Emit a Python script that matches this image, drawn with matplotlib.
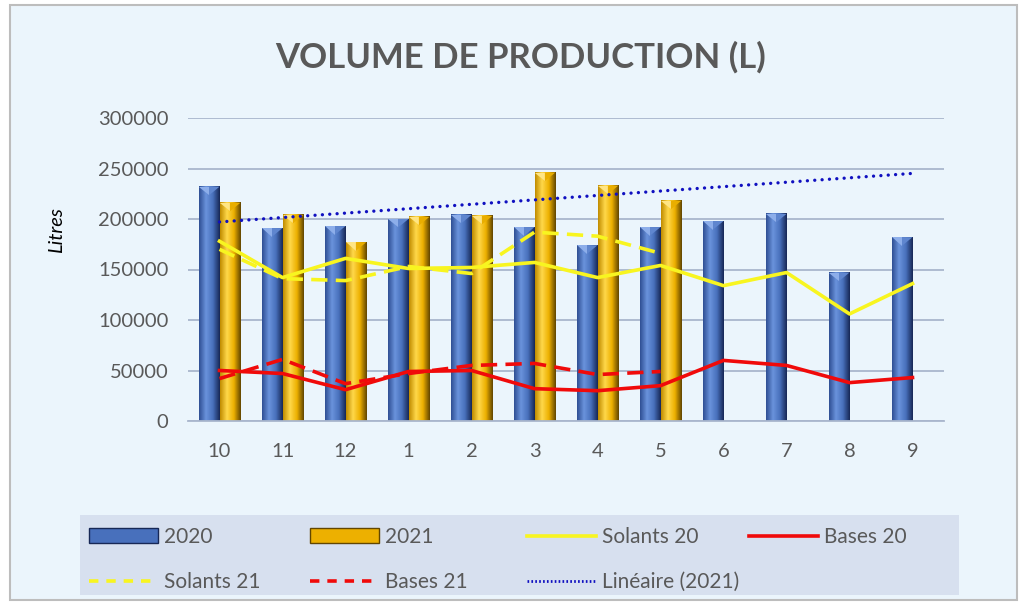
import matplotlib
matplotlib.use('Agg')
import matplotlib.pyplot as plt
import numpy as np
from matplotlib.colors import LinearSegmentedColormap
from matplotlib.patches import Rectangle, Polygon, Patch
from matplotlib.lines import Line2D

plt.rcParams['font.family'] = ['Lato', 'DejaVu Sans']

# donnees
mois = ['10', '11', '12', '1', '2', '3', '4', '5', '6', '7', '8', '9']
vol_2020 = [232000, 191000, 193000, 200000, 204000, 192000, 174000, 192000,
            198000, 205000, 147000, 182000]
vol_2021 = [216000, 204000, 177000, 202000, 203000, 246000, 233000, 218000]
solants_20 = [178000, 142000, 161000, 151000, 152000, 157000, 142000, 154000,
              134000, 147000, 106000, 136000]
bases_20 = [50000, 47000, 31000, 49000, 50000, 32000, 30000, 35000,
            60000, 55000, 38000, 43000]
solants_21 = [170000, 141000, 139000, 153000, 146000, 187000, 183000, 166000]
bases_21 = [42000, 61000, 37000, 47000, 55000, 57000, 46000, 49000]

gris = '#595959'
jaune_l = '#F8F520'
rouge_l = '#F00A0A'
x = np.arange(len(mois))
x21 = np.arange(len(vol_2021))
larg = 0.33
lw = 2.6

fig = plt.figure(figsize=(10.21, 6.05), dpi=100)
fig.patch.set_facecolor('white')
# zone du graphique
fig.patches.append(Rectangle((10 / 1021, 5 / 605), 1007 / 1021, 595 / 605,
                             transform=fig.transFigure, facecolor='#EBF5FC',
                             edgecolor='#BDBDBD', lw=1.5, zorder=-2))
# cadre de la legende
fig.patches.append(Rectangle((80 / 1021, 10 / 605), 879 / 1021, 80 / 605,
                             transform=fig.transFigure, facecolor='#D7E0EF',
                             edgecolor='none', zorder=-1))

ax = fig.add_axes([188 / 1021, 1 - 421 / 605, 756 / 1021, 303 / 605])
ax.patch.set_visible(False)

bleu = LinearSegmentedColormap.from_list('bleu', ['#2F4F94', '#6A93DC', '#4870BC', '#172856'])
jaune = LinearSegmentedColormap.from_list('jaune', ['#C08C00', '#FFD84A', '#EDB000', '#624600'])
grad = np.linspace(0, 1, 64).reshape(1, -1)
ymax = 300000
d = 0.028 * ymax


def barres(xs, vals, cmap, clair, moyen):
    bars = ax.bar(xs, vals, width=larg, color='none', zorder=2)
    for b in bars:
        x0, w, h = b.get_x(), b.get_width(), b.get_height()
        ax.imshow(grad, extent=(x0, x0 + w, 0, h), aspect='auto', cmap=cmap, zorder=2)
        xc = x0 + w / 2
        ax.add_patch(Polygon([(x0, h), (xc, h), (xc, h - d)], closed=True,
                             facecolor=clair, edgecolor='none', zorder=3))
        ax.add_patch(Polygon([(xc, h), (x0 + w, h), (xc, h - d)], closed=True,
                             facecolor=moyen, edgecolor='none', zorder=3))


barres(x - larg / 2, vol_2020, bleu, '#8DAEEA', '#5F86CF')
barres(x21 + larg / 2, vol_2021, jaune, '#FFE584', '#E9AE00')

# courbes
ax.plot(x, solants_20, color=jaune_l, lw=lw, zorder=4)
ax.plot(x, bases_20, color=rouge_l, lw=lw, zorder=4)
ax.plot(x21, solants_21, color=jaune_l, lw=lw, ls=(0, (4.5, 2.3)), zorder=4)
ax.plot(x21, bases_21, color=rouge_l, lw=lw, ls=(0, (4.5, 2.3)), zorder=4)

# tendance lineaire 2021
coef = np.polyfit(x21, vol_2021, 1)
tend = np.polyval(coef, x)
ax.plot(x, tend, color='#1010C0', lw=2.4, ls=(0, (0.01, 2.2)),
        dash_capstyle='round', zorder=5)

ax.set_xlim(-0.5, len(mois) - 0.5)
ax.set_ylim(0, ymax)
ax.set_yticks(np.arange(0, 300001, 50000))
ax.set_xticks(x)
ax.set_xticklabels(mois)
ax.yaxis.grid(True, color='#A9B6CD', lw=1.3)
ax.set_axisbelow(True)
for s in ['top', 'right', 'left']:
    ax.spines[s].set_visible(False)
ax.spines['bottom'].set_color('#A9B6CD')
ax.spines['bottom'].set_linewidth(1.3)
ax.tick_params(axis='both', length=0, labelsize=14.5, labelcolor=gris)
ax.tick_params(axis='y', pad=14)
ax.tick_params(axis='x', pad=16)

fig.text(521 / 1021, 1 - 57 / 605, 'VOLUME DE PRODUCTION (L)', ha='center', va='center',
         fontsize=25, fontweight='bold', color=gris)
fig.text(57 / 1021, 1 - 230 / 605, 'Litres', rotation=90, ha='center', va='center',
         fontsize=14.5, style='italic', color='black')

# legende en 4 colonnes
h2020 = Patch(facecolor='#4870BC', edgecolor='#172856')
h2021 = Patch(facecolor='#EDB000', edgecolor='#624600')
hs20 = Line2D([], [], color=jaune_l, lw=lw)
hb20 = Line2D([], [], color=rouge_l, lw=lw)
hs21 = Line2D([], [], color=jaune_l, lw=lw, ls=(0, (2.6, 2.2)))
hb21 = Line2D([], [], color=rouge_l, lw=lw, ls=(0, (2.6, 2.2)))
hlin = Line2D([], [], color='#1010C0', lw=2, ls=(0, (0.6, 0.8)))
colonnes = [([h2020, hs21], ['2020', 'Solants 21'], 89),
            ([h2021, hb21], ['2021', 'Bases 21'], 310),
            ([hs20, hlin], ['Solants 20', 'Linéaire (2021)'], 527),
            ([hb20], ['Bases 20'], 749)]
for hs, labs, px in colonnes:
    fig.legend(hs, labs, loc='upper left', bbox_to_anchor=(px / 1021, 1 - 527 / 605),
               frameon=False, fontsize=15, labelcolor=gris, handlelength=3.3,
               handletextpad=0.3, borderpad=0, borderaxespad=0, labelspacing=1.2)

fig.savefig('out.png', dpi=100)
